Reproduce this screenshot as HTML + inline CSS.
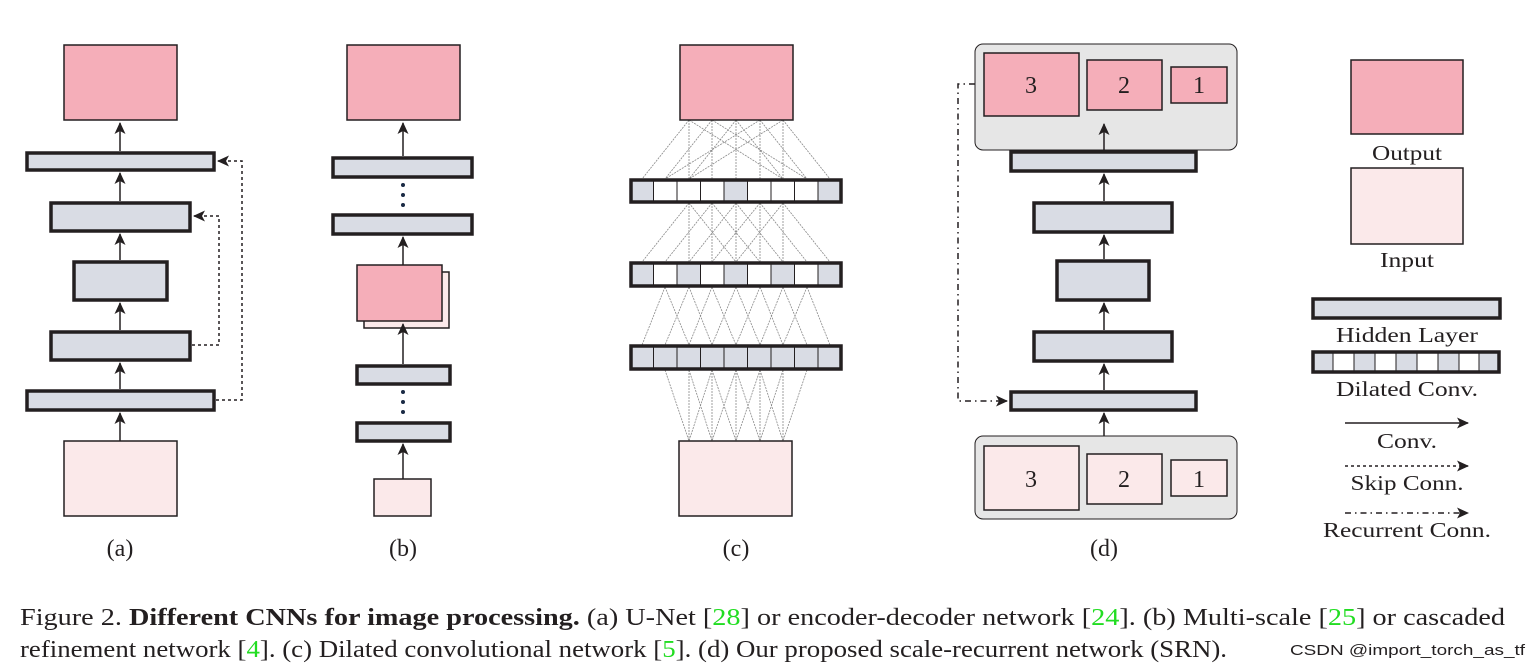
<!DOCTYPE html>
<html><head><meta charset="utf-8"><style>
html,body{margin:0;padding:0;background:#fff;}
svg{display:block;}
text{font-family:"Liberation Serif","Times New Roman",Times,serif;fill:#231f20;}
</style></head><body>
<svg width="1540" height="670" viewBox="0 0 1540 670" xmlns="http://www.w3.org/2000/svg" font-family="Liberation Serif, Times New Roman, serif">
<defs>
<marker id="ah" markerWidth="12" markerHeight="12" refX="11" refY="5.5" orient="auto" markerUnits="userSpaceOnUse"><path d="M0,0 L12,5.5 L0,11 L3,5.5 Z" fill="#231f20"/></marker>
</defs>
<g stroke="#231f20">
<!-- (a) -->
<rect x="64" y="45" width="113" height="75" fill="#f5aeb9" stroke-width="1.5"/>
<rect x="64" y="441" width="113" height="75" fill="#fbe9ea" stroke-width="1.5"/>
<g fill="#d9dce4" stroke-width="3.5">
<rect x="27" y="153" width="187" height="17"/>
<rect x="51" y="203" width="139" height="28"/>
<rect x="74" y="262" width="93" height="38"/>
<rect x="51" y="332" width="139" height="28"/>
<rect x="27" y="391" width="187" height="19"/>
</g>
<g stroke-width="1.5" marker-end="url(#ah)">
<line x1="120" y1="441" x2="120" y2="413"/>
<line x1="120" y1="389" x2="120" y2="363"/>
<line x1="120" y1="330" x2="120" y2="303"/>
<line x1="120" y1="260" x2="120" y2="234"/>
<line x1="120" y1="201" x2="120" y2="173"/>
<line x1="120" y1="151" x2="120" y2="123"/>
</g>
<g fill="none" stroke-width="1.5" stroke-dasharray="3,3">
<polyline points="192,345 219,345 219,216 194,216" marker-end="url(#ah)"/>
<polyline points="216,400 242,400 242,161 218,161" marker-end="url(#ah)"/>
</g>
<!-- (b) -->
<rect x="347" y="45" width="113" height="75" fill="#f5aeb9" stroke-width="1.5"/>
<rect x="364" y="272" width="85" height="56" fill="#fbe9ea" stroke-width="1.5"/>
<rect x="357" y="265" width="85" height="56" fill="#f5aeb9" stroke-width="1.5"/>
<rect x="374" y="479" width="57" height="37" fill="#fbe9ea" stroke-width="1.5"/>
<g fill="#d9dce4" stroke-width="3.5">
<rect x="333" y="158" width="139" height="19"/>
<rect x="333" y="215" width="139" height="19"/>
<rect x="357" y="366" width="93" height="18"/>
<rect x="357" y="423" width="93" height="18"/>
</g>
<g stroke-width="1.5" marker-end="url(#ah)">
<line x1="403" y1="479" x2="403" y2="444"/>
<line x1="403" y1="364" x2="403" y2="324"/>
<line x1="403" y1="265" x2="403" y2="237"/>
<line x1="403" y1="156" x2="403" y2="123"/>
</g>
</g>
<g fill="#1a2a44">
<circle cx="403" cy="185" r="2"/><circle cx="403" cy="195" r="2"/><circle cx="403" cy="205" r="2"/>
<circle cx="403" cy="392" r="2"/><circle cx="403" cy="402" r="2"/><circle cx="403" cy="412" r="2"/>
</g>
<!-- (c) -->
<g stroke="#888" stroke-width="0.8" stroke-dasharray="2,1" fill="none">
<line x1="689" y1="120" x2="689" y2="179"/><line x1="712" y1="120" x2="712" y2="179"/><line x1="736" y1="120" x2="736" y2="179"/><line x1="760" y1="120" x2="760" y2="179"/><line x1="783" y1="120" x2="783" y2="179"/>
<line x1="689" y1="120" x2="642" y2="179"/><line x1="689" y1="120" x2="783" y2="179"/>
<line x1="712" y1="120" x2="665" y2="179"/><line x1="712" y1="120" x2="807" y2="179"/>
<line x1="736" y1="120" x2="689" y2="179"/><line x1="736" y1="120" x2="783" y2="179"/>
<line x1="760" y1="120" x2="665" y2="179"/><line x1="760" y1="120" x2="807" y2="179"/>
<line x1="783" y1="120" x2="689" y2="179"/><line x1="783" y1="120" x2="830" y2="179"/>
<line x1="689" y1="203" x2="689" y2="262"/><line x1="712" y1="203" x2="712" y2="262"/><line x1="736" y1="203" x2="736" y2="262"/><line x1="760" y1="203" x2="760" y2="262"/><line x1="783" y1="203" x2="783" y2="262"/>
<line x1="689" y1="203" x2="642" y2="262"/><line x1="689" y1="203" x2="736" y2="262"/>
<line x1="712" y1="203" x2="665" y2="262"/><line x1="712" y1="203" x2="760" y2="262"/>
<line x1="736" y1="203" x2="689" y2="262"/><line x1="736" y1="203" x2="783" y2="262"/>
<line x1="760" y1="203" x2="712" y2="262"/><line x1="760" y1="203" x2="807" y2="262"/>
<line x1="783" y1="203" x2="736" y2="262"/><line x1="783" y1="203" x2="830" y2="262"/>
<line x1="665" y1="287" x2="642" y2="345"/><line x1="665" y1="287" x2="689" y2="345"/>
<line x1="689" y1="287" x2="665" y2="345"/><line x1="689" y1="287" x2="712" y2="345"/>
<line x1="712" y1="287" x2="689" y2="345"/><line x1="712" y1="287" x2="736" y2="345"/>
<line x1="736" y1="287" x2="712" y2="345"/><line x1="736" y1="287" x2="760" y2="345"/>
<line x1="760" y1="287" x2="736" y2="345"/><line x1="760" y1="287" x2="783" y2="345"/>
<line x1="783" y1="287" x2="760" y2="345"/><line x1="783" y1="287" x2="807" y2="345"/>
<line x1="807" y1="287" x2="783" y2="345"/><line x1="807" y1="287" x2="830" y2="345"/>
<line x1="689" y1="370" x2="689" y2="441"/><line x1="712" y1="370" x2="712" y2="441"/><line x1="736" y1="370" x2="736" y2="441"/><line x1="760" y1="370" x2="760" y2="441"/><line x1="783" y1="370" x2="783" y2="441"/>
<line x1="665" y1="370" x2="689" y2="441"/><line x1="689" y1="370" x2="712" y2="441"/><line x1="712" y1="370" x2="736" y2="441"/><line x1="736" y1="370" x2="760" y2="441"/><line x1="760" y1="370" x2="783" y2="441"/>
<line x1="712" y1="370" x2="689" y2="441"/><line x1="736" y1="370" x2="712" y2="441"/><line x1="760" y1="370" x2="736" y2="441"/><line x1="783" y1="370" x2="760" y2="441"/><line x1="807" y1="370" x2="783" y2="441"/>
</g>
<g stroke="#231f20">
<rect x="680" y="45" width="113" height="75" fill="#f5aeb9" stroke-width="1.5"/>
<rect x="679" y="441" width="113" height="75" fill="#fbe9ea" stroke-width="1.5"/>
<g stroke-width="1">
<rect x="630" y="179" width="212" height="24" fill="#fff"/>
<rect x="630" y="179" width="23.5" height="24" fill="#d9dce4"/><rect x="724" y="179" width="23.5" height="24" fill="#d9dce4"/><rect x="818" y="179" width="23.5" height="24" fill="#d9dce4"/>
<rect x="630" y="262" width="212" height="25" fill="#fff"/>
<rect x="630" y="262" width="23.5" height="25" fill="#d9dce4"/><rect x="677" y="262" width="23.5" height="25" fill="#d9dce4"/><rect x="724" y="262" width="23.5" height="25" fill="#d9dce4"/><rect x="771" y="262" width="23.5" height="25" fill="#d9dce4"/><rect x="818" y="262" width="23.5" height="25" fill="#d9dce4"/>
<rect x="630" y="345" width="212" height="25" fill="#d9dce4"/>
<path d="M653.5,179v24M677,179v24M700.5,179v24M724,179v24M747.5,179v24M771,179v24M794.5,179v24M818,179v24 M653.5,262v25M677,262v25M700.5,262v25M724,262v25M747.5,262v25M771,262v25M794.5,262v25M818,262v25 M653.5,345v25M677,345v25M700.5,345v25M724,345v25M747.5,345v25M771,345v25M794.5,345v25M818,345v25" fill="none"/>
</g>
<g fill="none" stroke-width="3.5">
<rect x="631" y="180" width="210" height="22"/><rect x="631" y="263" width="210" height="23"/><rect x="631" y="346" width="210" height="23"/>
</g>
<!-- (d) -->
<rect x="975" y="44" width="262" height="106" rx="8" fill="#e6e6e6" stroke-width="1"/>
<rect x="984" y="53" width="95" height="63" fill="#f5aeb9" stroke-width="1.5"/>
<rect x="1087" y="60" width="75" height="50" fill="#f5aeb9" stroke-width="1.5"/>
<rect x="1171" y="67" width="56" height="36" fill="#f5aeb9" stroke-width="1.5"/>
<rect x="975" y="436" width="262" height="83" rx="8" fill="#e6e6e6" stroke-width="1"/>
<rect x="984" y="446" width="95" height="64" fill="#fbe9ea" stroke-width="1.5"/>
<rect x="1087" y="454" width="75" height="50" fill="#fbe9ea" stroke-width="1.5"/>
<rect x="1171" y="460" width="56" height="36" fill="#fbe9ea" stroke-width="1.5"/>
<g fill="#d9dce4" stroke-width="3.5">
<rect x="1011" y="152" width="185" height="19"/>
<rect x="1034" y="203" width="138" height="29"/>
<rect x="1057" y="261" width="92" height="39"/>
<rect x="1034" y="332" width="138" height="29"/>
<rect x="1011" y="392" width="185" height="18"/>
</g>
<g stroke-width="1.5" marker-end="url(#ah)">
<line x1="1104" y1="436" x2="1104" y2="413"/>
<line x1="1104" y1="390" x2="1104" y2="364"/>
<line x1="1104" y1="330" x2="1104" y2="303"/>
<line x1="1104" y1="259" x2="1104" y2="235"/>
<line x1="1104" y1="201" x2="1104" y2="174"/>
<line x1="1104" y1="150" x2="1104" y2="124"/>
</g>
<polyline points="975,84 958,84 958,401 1007,401" fill="none" stroke-width="1.5" stroke-dasharray="6,4,1.5,4" marker-end="url(#ah)"/>
<!-- legend -->
<rect x="1351" y="60" width="112" height="74" fill="#f5aeb9" stroke-width="1.5"/>
<rect x="1351" y="168" width="112" height="76" fill="#fbe9ea" stroke-width="1.5"/>
<rect x="1313" y="299" width="187" height="19" fill="#d9dce4" stroke-width="3.5"/>
<g stroke-width="1">
<rect x="1312" y="351" width="188" height="22" fill="#fff"/>
<rect x="1312" y="351" width="21" height="22" fill="#d9dce4"/><rect x="1354" y="351" width="21" height="22" fill="#d9dce4"/><rect x="1396" y="351" width="21" height="22" fill="#d9dce4"/><rect x="1438" y="351" width="21" height="22" fill="#d9dce4"/><rect x="1479" y="351" width="21" height="22" fill="#d9dce4"/>
<path d="M1333,351v22M1354,351v22M1375,351v22M1396,351v22M1417,351v22M1438,351v22M1459,351v22M1479,351v22" fill="none"/>
</g>
<rect x="1313" y="352" width="186" height="20" fill="none" stroke-width="3.5"/>
<line x1="1345" y1="423" x2="1468" y2="423" stroke-width="1.5" marker-end="url(#ah)"/>
<line x1="1345" y1="466" x2="1468" y2="466" stroke-width="1.5" stroke-dasharray="3,3" marker-end="url(#ah)"/>
<line x1="1345" y1="513" x2="1468" y2="513" stroke-width="1.5" stroke-dasharray="6,4,1.5,4" marker-end="url(#ah)"/>
</g>
<g font-size="24" text-anchor="middle">
<text x="1031" y="93">3</text><text x="1124" y="93">2</text><text x="1199" y="93">1</text>
<text x="1031" y="487">3</text><text x="1124" y="487">2</text><text x="1199" y="487">1</text>
<text x="120" y="556">(a)</text><text x="403" y="556">(b)</text><text x="736" y="556">(c)</text><text x="1104" y="556">(d)</text>
</g>
<g font-size="21" text-anchor="middle">
<text x="1407" y="160" textLength="70" lengthAdjust="spacingAndGlyphs">Output</text>
<text x="1407" y="267" textLength="54" lengthAdjust="spacingAndGlyphs">Input</text>
<text x="1407" y="342" textLength="142" lengthAdjust="spacingAndGlyphs">Hidden Layer</text>
<text x="1407" y="396" textLength="142" lengthAdjust="spacingAndGlyphs">Dilated Conv.</text>
<text x="1407" y="448" textLength="60" lengthAdjust="spacingAndGlyphs">Conv.</text>
<text x="1407" y="490" textLength="113" lengthAdjust="spacingAndGlyphs">Skip Conn.</text>
<text x="1407" y="537" textLength="168" lengthAdjust="spacingAndGlyphs">Recurrent Conn.</text>
</g>
<text x="20" y="625" font-size="24" textLength="1485" lengthAdjust="spacingAndGlyphs">Figure 2. <tspan font-weight="bold">Different CNNs for image processing.</tspan>  (a) U-Net [<tspan fill="#22dd22">28</tspan>] or encoder-decoder network [<tspan fill="#22dd22">24</tspan>].  (b) Multi-scale [<tspan fill="#22dd22">25</tspan>] or cascaded</text>
<text x="20" y="657" font-size="24" textLength="1207" lengthAdjust="spacingAndGlyphs">refinement network [<tspan fill="#22dd22">4</tspan>]. (c) Dilated convolutional network [<tspan fill="#22dd22">5</tspan>]. (d) Our proposed scale-recurrent network (SRN).</text>
<text x="1290" y="655" font-size="15" style="font-family:'Liberation Sans',sans-serif" fill="#999" textLength="235" lengthAdjust="spacingAndGlyphs">CSDN @import_torch_as_tf</text>
</svg>
</body></html>
